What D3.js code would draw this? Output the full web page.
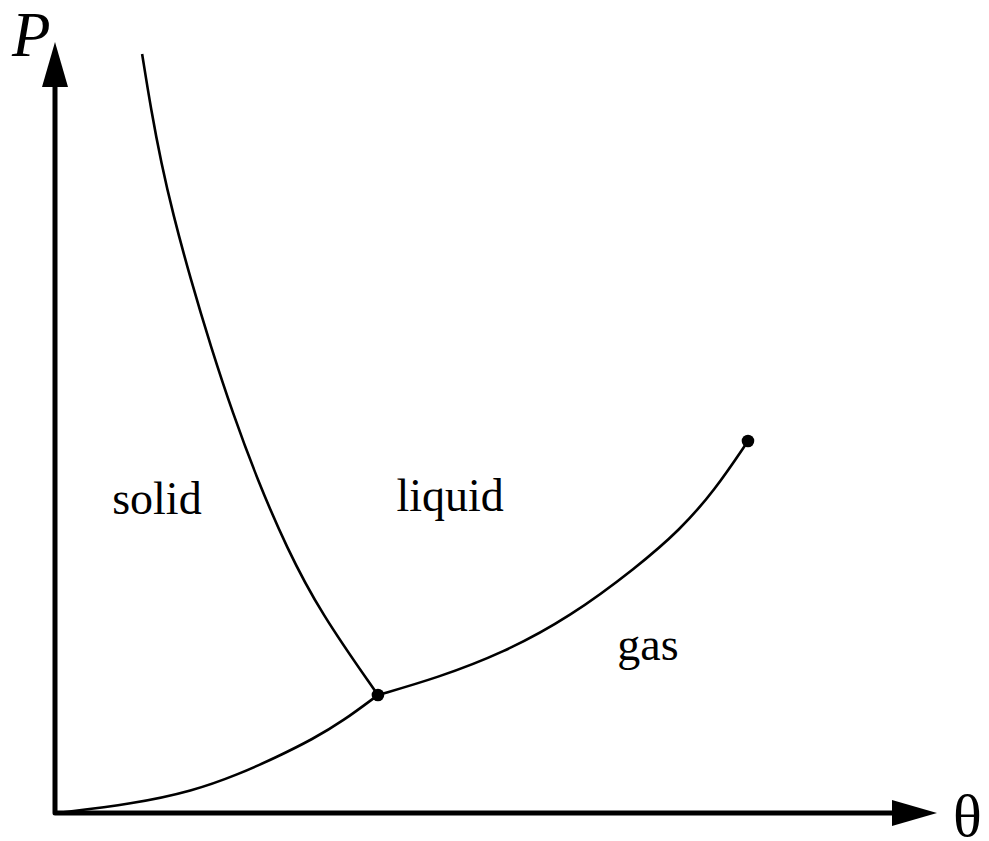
<!DOCTYPE html>
<html>
<head>
<meta charset="utf-8">
<script src="https://cdn.jsdelivr.net/npm/d3@7"></script>
<style>
  body { margin: 0; background: #fff; }
  svg { display: block; }
  text { font-family: "Liberation Serif", "Times New Roman", Times, serif; fill: #000; }
</style>
</head>
<body>
<svg id="chart" width="989" height="841"></svg>
<script>
// phase boundaries (arbitrary units)
const sublimationTheta = [0.23, 8.86, 15.68, 20.68, 25.23, 29.32, 32.73, 36.7]
const sublimationP     = [0, 1.13, 2.75, 4.75, 7.0, 9.25, 11.5, 14.75]

const meltingTheta = [36.7, 30.18, 26.28, 23.01, 20.19, 17.72, 15.43, 13.38, 12.07, 10.92, 9.9]
const meltingP     = [14.75, 25.0, 33.25, 41.63, 50.0, 58.25, 66.63, 75.0, 81.25, 87.88, 94.88]

const vaporTheta = [36.7, 43.41, 50.91, 58.52, 66.14, 71.02, 75.0, 78.75]
const vaporP     = [14.75, 16.88, 20.0, 24.5, 30.75, 35.38, 40.38, 46.5]

const specialPoints = [
  {name: "triple", theta: 36.7, p: 14.75},
  {name: "critical", theta: 78.75, p: 46.5}
]

const regionLabels = [
  {text: "solid", theta: 6.5, p: 37.4},
  {text: "liquid", theta: 38.8, p: 37.7},
  {text: "gas", theta: 63.9, p: 19.1}
]

const svg = d3.select("#chart")

const x = d3.scaleLinear().domain([0, 100.23]).range([55, 937])
const y = d3.scaleLinear().domain([0, 96.375]).range([813, 42])

const zip = (xs, ys) => xs.map((t, i) => [t, ys[i]])

const line = d3.line()
  .x(d => x(d[0]))
  .y(d => y(d[1]))
  .curve(d3.curveBasis)

// curves
const curves = [
  zip(sublimationTheta, sublimationP),
  zip(meltingTheta, meltingP),
  zip(vaporTheta, vaporP)
]
svg.selectAll(".curve")
  .data(curves)
  .enter().append("path")
    .attr("class", "curve")
    .attr("d", line)
    .attr("fill", "none")
    .attr("stroke", "#000")
    .attr("stroke-width", 2.6)

// axes with arrow heads
const x0 = x(0), y0 = y(0)
const xEnd = x.range()[1], yEnd = y.range()[1]
const head = 45, half = 13

svg.append("path")
  .attr("d", "M" + x0 + "," + (yEnd + head) + " L" + x0 + "," + y0 + " L" + (xEnd - head) + "," + y0)
  .attr("fill", "none")
  .attr("stroke", "#000")
  .attr("stroke-width", 5)
  .attr("stroke-linejoin", "round")

svg.append("path")
  .attr("d", "M" + x0 + "," + yEnd + " L" + (x0 - half) + "," + (yEnd + head) + " L" + (x0 + half) + "," + (yEnd + head) + "Z")
  .attr("fill", "#000")

svg.append("path")
  .attr("d", "M" + xEnd + "," + y0 + " L" + (xEnd - head) + "," + (y0 - half) + " L" + (xEnd - head) + "," + (y0 + half) + "Z")
  .attr("fill", "#000")

// triple and critical points
svg.selectAll(".pt")
  .data(specialPoints)
  .enter().append("circle")
    .attr("class", "pt")
    .attr("cx", d => x(d.theta))
    .attr("cy", d => y(d.p))
    .attr("r", 6.3)
    .attr("fill", "#000")

// region labels
svg.selectAll(".region")
  .data(regionLabels)
  .enter().append("text")
    .attr("class", "region")
    .attr("x", d => x(d.theta))
    .attr("y", d => y(d.p))
    .attr("font-size", 46)
    .text(d => d.text)

// axis labels
svg.append("text")
  .attr("x", 12)
  .attr("y", 56)
  .attr("font-size", 63)
  .attr("font-style", "italic")
  .text("P")

svg.append("text")
  .attr("x", 953)
  .attr("y", 836)
  .attr("font-size", 60)
  .text("θ")
</script>
</body>
</html>
